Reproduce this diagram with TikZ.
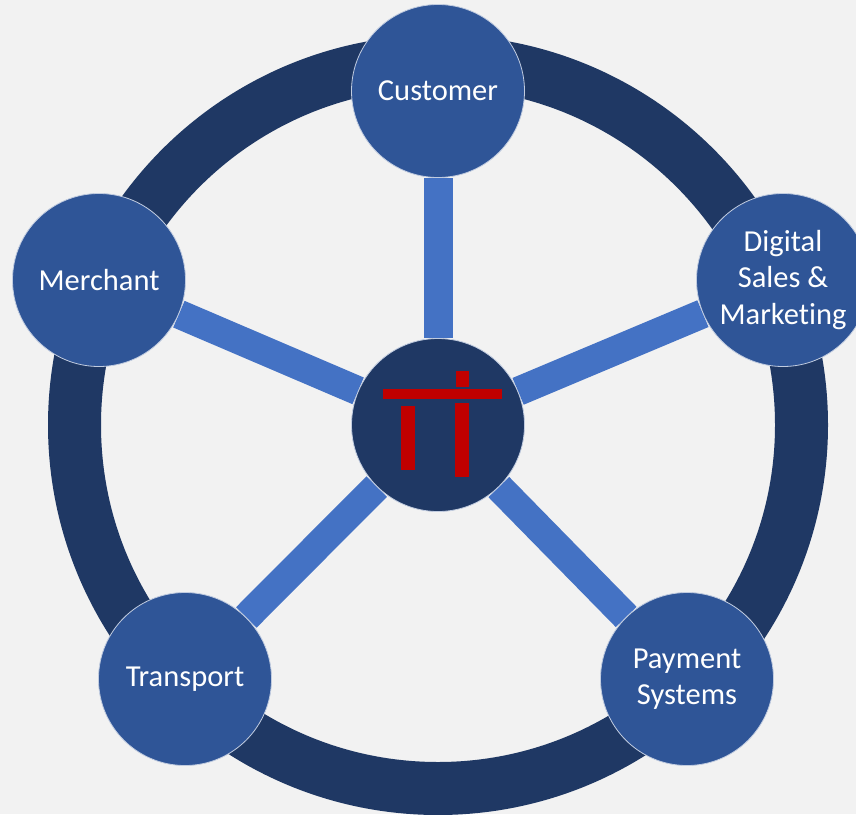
\documentclass[tikz,border=0pt]{standalone}
\definecolor{PageGray}{HTML}{F2F2F2}
\definecolor{RingBlue}{HTML}{1F3864}
\definecolor{NodeBlue}{HTML}{2F5597}
\definecolor{SpokeBlue}{HTML}{4472C4}
\definecolor{LogoRed}{HTML}{C00000}
\usepackage{fontspec}
\setmainfont[Ligatures=NoCommon]{Carlito}
\usetikzlibrary{backgrounds}

\begin{document}
\begin{tikzpicture}[x=1pt,y=-1pt,
    party/.style={circle,draw=white!70!NodeBlue,line width=0.8pt,
                fill=NodeBlue,minimum size=173pt,inner sep=0pt,
                text=white,align=center,
                font=\fontsize{30.5}{36.5}\selectfont},
    hubnode/.style={party,fill=RingBlue},
    spoke/.style={SpokeBlue,line width=29pt},
    logobar/.style={fill=LogoRed}]

    \useasboundingbox (0,0) rectangle (856,814);

    \node[hubnode] (hub) at (438,425) {};
    \node[party] (customer) at (438,91)  {Customer};
    \node[party] (digital)  at (783,280) {Digital\\Sales \&\\Marketing};
    \node[party] (payment)  at (687,679) {Payment\\Systems};
    \node[party] (transport) at (185,679) {Transport};
    \node[party] (merchant) at (99,280)  {Merchant};

    \begin{scope}[on background layer]
      \fill[PageGray] (0,0) rectangle (856,814);
      % outer ring
      \node[circle,draw=RingBlue,line width=53pt,minimum size=727pt,
            inner sep=0pt] (ring) at (438,425) {};
      \foreach \n in {customer,digital,payment,transport,merchant}{
        \draw[spoke] (hub) -- (\n);
      }
    \end{scope}

    % logo bars
    \fill[logobar] (383,389) rectangle (502,399);
    \fill[logobar] (401,406) rectangle (415,470);
    \fill[logobar] (455,403) rectangle (469,477);
    \fill[logobar] (456,371) rectangle (469,387);
\end{tikzpicture}
\end{document}
